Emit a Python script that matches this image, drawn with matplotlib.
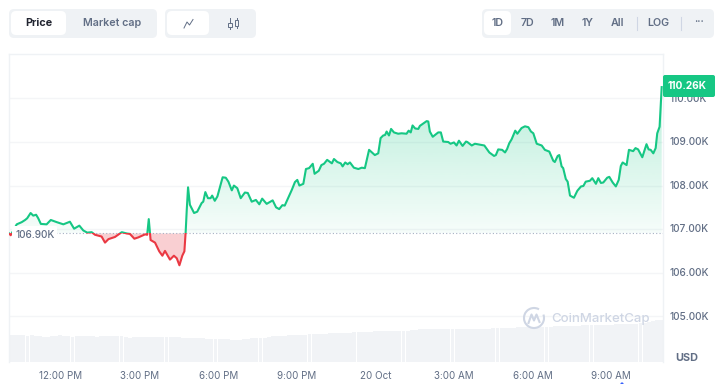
import numpy as np
import matplotlib
matplotlib.use('Agg')
import matplotlib.pyplot as plt
from matplotlib.patches import FancyBboxPatch, Circle, Arc
from matplotlib.path import Path

plt.rcParams['font.family'] = ['Inter', 'DejaVu Sans']

# hours after 12:00 PM on the first day
hours = [-1.98, -1.92, -1.69, -1.50, -1.37, -1.29, -1.16, -1.06, -0.95, -0.87, -0.77, -0.55, -0.39, -0.16, 0.09, 0.34,
         0.50, 0.70, 0.85, 1.00, 1.17, 1.30, 1.55, 1.68, 1.81, 2.06, 2.32, 2.51, 2.63, 2.80, 2.95, 3.21,
         3.29, 3.35, 3.42, 3.59, 3.75, 3.87, 3.97, 4.16, 4.31, 4.42, 4.52, 4.63, 4.71, 4.76, 4.80, 4.85,
         4.92, 5.08, 5.20, 5.37, 5.43, 5.51, 5.61, 5.71, 5.77, 5.87, 5.97, 6.17, 6.29, 6.39, 6.52, 6.60,
         6.73, 6.86, 7.02, 7.13, 7.28, 7.44, 7.57, 7.68, 7.85, 8.08, 8.21, 8.33, 8.45, 8.54, 8.81, 8.93,
         9.02, 9.10, 9.25, 9.35, 9.47, 9.61, 9.68, 9.84, 9.94, 10.04, 10.16, 10.34, 10.42, 10.55, 10.68, 10.75,
         10.85, 10.94, 11.03, 11.18, 11.35, 11.48, 11.60, 11.76, 11.98, 12.11, 12.20, 12.30, 12.37, 12.43, 12.52, 12.60,
         12.71, 12.87, 13.00, 13.19, 13.27, 13.35, 13.42, 13.52, 13.64, 13.70, 13.96, 14.02, 14.08, 14.19, 14.40, 14.50,
         14.59, 14.78, 14.87, 15.00, 15.10, 15.19, 15.33, 15.46, 15.51, 15.68, 15.80, 15.99, 16.16, 16.35, 16.53, 16.60,
         16.69, 16.84, 16.95, 17.03, 17.11, 17.20, 17.34, 17.42, 17.58, 17.71, 17.84, 17.94, 18.03, 18.16, 18.35, 18.47,
         18.64, 18.79, 18.85, 18.96, 19.02, 19.11, 19.17, 19.27, 19.34, 19.43, 19.58, 19.71, 19.85, 19.94, 20.03, 20.19,
         20.28, 20.42, 20.51, 20.61, 20.70, 20.85, 20.93, 21.06, 21.18, 21.29, 21.37, 21.44, 21.59, 21.68, 21.84, 21.93,
         22.03, 22.19, 22.35, 22.43, 22.51, 22.61, 22.70, 22.76, 22.85, 22.93]
# price in thousands of USD
price = [106.90, 106.86, 107.11, 107.16, 107.21, 107.25, 107.37, 107.31, 107.33, 107.25, 107.12, 107.11, 107.21, 107.16, 107.11, 107.17,
         107.01, 107.08, 106.97, 106.92, 106.93, 106.87, 106.83, 106.69, 106.77, 106.82, 106.93, 106.90, 106.89, 106.78, 106.81, 106.88,
         106.87, 107.23, 106.75, 106.69, 106.49, 106.39, 106.50, 106.30, 106.39, 106.33, 106.17, 106.39, 106.49, 106.95, 107.44, 107.96,
         107.56, 107.37, 107.40, 107.60, 107.63, 107.85, 107.71, 107.71, 107.77, 107.65, 107.75, 108.19, 108.18, 108.09, 107.89, 108.00,
         107.94, 107.71, 107.84, 107.83, 107.63, 107.67, 107.57, 107.70, 107.58, 107.66, 107.50, 107.46, 107.55, 107.54, 107.90, 108.08,
         108.13, 108.00, 108.04, 108.38, 108.40, 108.50, 108.27, 108.34, 108.47, 108.50, 108.59, 108.51, 108.61, 108.54, 108.51, 108.44,
         108.53, 108.49, 108.53, 108.41, 108.38, 108.41, 108.40, 108.82, 108.70, 108.74, 109.09, 109.15, 109.16, 109.24, 109.15, 109.30,
         109.22, 109.19, 109.20, 109.19, 109.26, 109.22, 109.38, 109.31, 109.30, 109.37, 109.48, 109.47, 109.24, 109.12, 109.22, 109.22,
         109.01, 109.00, 108.96, 108.99, 108.92, 109.03, 108.91, 109.01, 109.00, 108.92, 108.96, 108.94, 108.92, 108.76, 108.68, 108.70,
         108.83, 108.82, 108.76, 108.84, 108.97, 109.06, 109.26, 109.19, 109.32, 109.36, 109.34, 109.24, 109.20, 108.96, 108.92, 108.82,
         108.78, 108.57, 108.54, 108.68, 108.70, 108.44, 108.40, 108.15, 108.09, 107.77, 107.72, 107.88, 107.98, 107.99, 108.09, 108.11,
         108.17, 108.04, 108.17, 108.06, 108.07, 108.18, 108.20, 108.07, 107.98, 108.13, 108.45, 108.53, 108.47, 108.82, 108.79, 108.86,
         108.83, 108.65, 108.95, 108.83, 108.82, 108.74, 108.86, 109.20, 109.35, 110.26]
baseline = 106.90

# volume, one bar per time step
volume = [27, 27, 27.5, 27, 26.5, 27, 26, 26.5, 25.5, 25.5, 26, 26, 27, 26, 26, 25.5, 26, 26.5, 26.5, 26.5, 26, 25.5, 26, 26.5, 26.5, 26, 26.5, 26, 25, 24.5,
          25, 25.5, 25, 25.5, 25.5, 25, 25, 25, 25, 25, 25, 25, 24.5, 24.5, 24.5, 24.5, 24, 24, 23.5, 23, 23, 23.5, 23.5, 23, 22.5, 22.5, 22.5, 23, 23.5, 24,
          24, 24.5, 24, 25, 26, 26, 26.5, 26.5, 27, 27, 27, 27.5, 27.5, 28, 28, 28, 28.5, 28.5, 29, 29, 29, 29, 29.5, 29.5, 30, 30, 30.5, 30.5, 30.5, 31,
          31, 31, 31, 31, 31, 31, 31, 31.5, 32, 32.5, 33, 33, 33.5, 33.5, 33.5, 33.5, 33, 33, 33.5, 33.5, 33.5, 33, 33, 33, 33.5, 33.5, 33.5, 33.5, 34, 34,
          34, 34, 34.5, 34.5, 35, 35, 35, 35, 35.5, 35.5, 35.5, 35, 35.5, 36, 36, 36, 36, 36, 36.5, 36.5, 37, 37, 37, 37.5, 37.5, 37, 37, 37.5, 38, 38,
          38.5, 38, 38, 38.5, 39, 39.5, 40, 41, 42, 42]
vol_start = -1.98
vol_step = 24.96 / len(volume)

x_ticks = [0, 3, 6, 9, 12, 15, 18, 21]
x_labels = ['12:00 PM', '3:00 PM', '6:00 PM', '9:00 PM', '20 Oct', '3:00 AM', '6:00 AM', '9:00 AM']
y_ticks = [105, 106, 107, 108, 109, 110]
y_labels = ['105.00K', '106.00K', '107.00K', '108.00K', '109.00K', '110.00K']
ranges = ['1D', '7D', '1M', '1Y', 'All', 'LOG']

GREEN = '#16c784'
RED = '#ea3943'
GREY = '#616e85'
W, H = 720, 384
L, R, T, B = 9, 663, 54, 362

fig = plt.figure(figsize=(W / 100, H / 100), dpi=100)
fig.patch.set_facecolor('white')

# volume bars behind the price axes
ax_v = fig.add_axes([L / W, 1 - B / H, (R - L) / W, (B - T) / H])
ax_v.set_xlim(-1.985, 22.98)
ax_v.set_ylim(0, B - T)
ax_v.bar(vol_start + vol_step * (np.arange(len(volume)) + 0.5), volume, width=vol_step * 0.96, color='#f1f3f6', linewidth=0)
ax_v.axis('off')

ax = fig.add_axes([L / W, 1 - B / H, (R - L) / W, (B - T) / H])
ax.patch.set_alpha(0)
ax.set_xlim(-1.985, 22.98)
ax.set_ylim(103.95, 111.02)
ax.spines['bottom'].set_visible(False)
for s in ['top', 'right', 'left']:
    ax.spines[s].set_color('#eff2f5')
    ax.spines[s].set_linewidth(1)
ax.set_yticks(y_ticks)
ax.set_yticklabels([])
ax.set_xticks(x_ticks)
ax.set_xticklabels([])
ax.tick_params(length=0)
ax.grid(axis='y', color='#f4f5f7', linewidth=1)
ax.set_axisbelow(True)

hours_a = np.array(hours)
price_a = np.array(price)

# green area: vertical alpha ramp clipped to the filled polygons
up = ax.fill_between(hours_a, price_a, baseline, where=price_a >= baseline, interpolate=True, linewidth=0)
ramp = np.zeros((256, 1, 4))
ramp[:, 0, :3] = matplotlib.colors.to_rgb(GREEN)
ramp[:, 0, 3] = np.linspace(0.30, 0.04, 256)
im = ax.imshow(ramp, extent=[-1.985, 22.98, baseline, 110.3], aspect='auto', origin='upper', zorder=2)
im.set_clip_path(Path.make_compound_path(*up.get_paths()), transform=ax.transData)
up.remove()

ax.fill_between(hours_a, price_a, baseline, where=price_a <= baseline, interpolate=True, linewidth=0, color=RED, alpha=0.24, zorder=2)
ax.set_xlim(-1.985, 22.98)
ax.set_ylim(103.95, 111.02)

ax.axhline(baseline, color='#a6b0c3', linewidth=0.8, linestyle=(0, (1, 2)), zorder=3)

# same line twice, cut at the open price
line_up, = ax.plot(hours, price, color=GREEN, linewidth=1.5, zorder=4, solid_joinstyle='round')
line_dn, = ax.plot(hours, price, color=RED, linewidth=1.5, zorder=4, solid_joinstyle='round')
line_up.set_clip_path(plt.Rectangle((-1.985, baseline), 25, 8, transform=ax.transData))
line_dn.set_clip_path(plt.Rectangle((-1.985, 100), 25, baseline - 100, transform=ax.transData))

# chrome drawn in pixel coordinates
ui = fig.add_axes([0, 0, 1, 1])
ui.set_xlim(0, W)
ui.set_ylim(H, 0)
ui.axis('off')
ui.patch.set_alpha(0)


def pill(x, y, w, h, color, r=5, z=5):
    ui.add_patch(FancyBboxPatch((x + r, y + r), w - 2 * r, h - 2 * r, boxstyle=f'round,pad={r},rounding_size={r}',
                                facecolor=color, edgecolor='none', zorder=z))


pill(9, 9, 148, 29, '#eff2f5')
pill(11, 11, 55, 24, 'white', z=6)
ui.text(38.5, 23.5, 'Price', ha='center', va='center', fontsize=7.8, fontweight='bold', color='#222531', zorder=7)
ui.text(112, 23.5, 'Market cap', ha='center', va='center', fontsize=7.7, fontweight='semibold', color=GREY, zorder=7)

pill(165, 9, 91, 29, '#eff2f5')
pill(167, 11, 42, 24, 'white', z=6)
ui.plot([184, 187, 189.5, 193], [28, 22, 25, 19.5], color=GREY, linewidth=0.7, zorder=7)
for cx, y0, y1, by0, by1 in [(230, 18, 29, 23, 27), (236.5, 18, 28, 19.5, 26)]:
    ui.plot([cx, cx], [y0, y1], color=GREY, linewidth=0.7, zorder=7)
    ui.add_patch(plt.Rectangle((cx - 1.7, by0), 3.4, by1 - by0, facecolor='#eff2f5', edgecolor=GREY, linewidth=0.7, zorder=7))

pill(482, 9, 232, 29, '#eff2f5')
pill(484, 11, 27, 24, 'white', z=6)
for label, cx in zip(ranges, [497.5, 527.5, 558, 588, 617.5, 658.5]):
    ui.text(cx, 23.5, label, ha='center', va='center', fontsize=7.7, fontweight='semibold', color=GREY, zorder=7)
ui.plot([636.5, 636.5], [17, 30], color='#cfd6e4', linewidth=0.8, zorder=7)
ui.plot([680.5, 680.5], [17, 30], color='#cfd6e4', linewidth=0.8, zorder=7)
ui.text(699, 22.5, '···', ha='center', va='center', fontsize=8.3, color=GREY, zorder=7)

# axis labels
for v, lab in zip(y_ticks, y_labels):
    py = 98.5 + (110 - v) * 43.6
    ui.text(669, py, lab, ha='left', va='center', fontsize=7.3, fontweight='medium', color=GREY, zorder=5)
ui.text(698, 358, 'USD', ha='right', va='center', fontsize=7.8, fontweight='bold', color=GREY, zorder=5)
for v, lab in zip(x_ticks, x_labels):
    ui.text(61 + v * 26.2, 376, lab, ha='center', va='center', fontsize=7.1, color=GREY, zorder=5)

# open price and last price tags, the white box hides the start of the line
pill(12, 226, 45, 16, 'white', r=1, z=5)
ui.text(15, 235, '106.90K', ha='left', va='center', fontsize=7.3, fontweight='medium', color=GREY, zorder=6)
pill(663, 75, 52, 22, GREEN, r=2, z=6)
ui.text(687, 86, '110.26K', ha='center', va='center', fontsize=7.3, fontweight='bold', color='white', zorder=7)

# watermark
ui.add_patch(Arc((534, 318), 20, 20, theta1=-20, theta2=300, edgecolor='#cfd6e4', linewidth=1.5, zorder=5))
ui.plot([528.5, 531.5, 534, 536.5, 539.5], [323, 314.5, 320.5, 314.5, 322], color='#cfd6e4', linewidth=1.5, zorder=5)
ui.text(551, 319, 'CoinMarketCap', ha='left', va='center', fontsize=9.5, fontweight='medium', color='#cfd6e4', zorder=5)

ui.add_patch(Circle((622, 384), 1.6, facecolor='#3861fb', edgecolor='none', zorder=5))

fig.savefig('out.png', dpi=100)
